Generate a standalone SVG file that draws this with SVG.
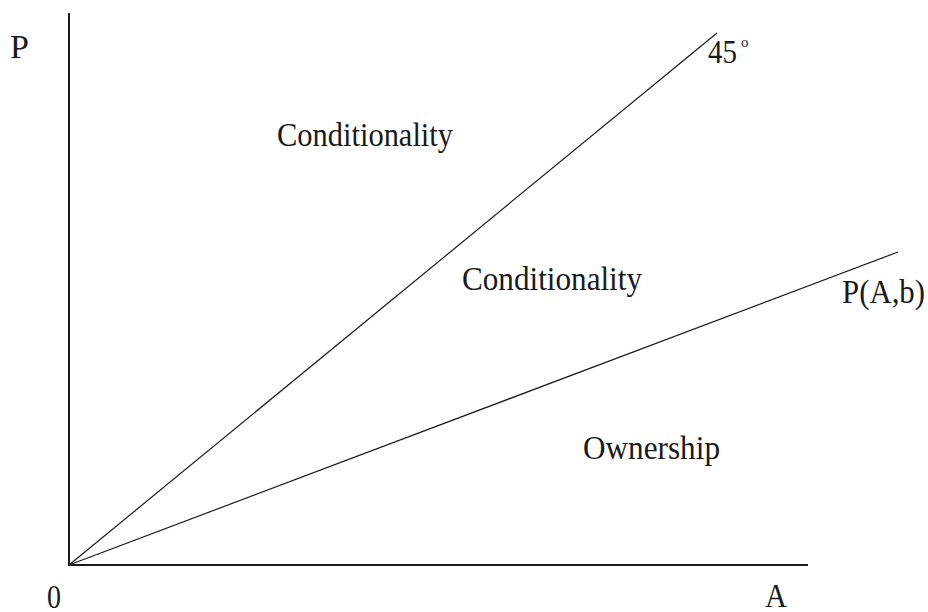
<svg xmlns="http://www.w3.org/2000/svg" width="928" height="612" viewBox="0 0 928 612">
  <style>
    .axis { stroke: #1a1a1a; stroke-width: 2; fill: none; }
    .ray { stroke: #1a1a1a; stroke-width: 1.2; fill: none; }
    .lbl { font-family: "Liberation Serif", "Times New Roman", serif; font-size: 34px; fill: #1a1a1a; }
    .sup { font-family: "Liberation Serif", "Times New Roman", serif; font-size: 15px; fill: #1a1a1a; }
  </style>
  <rect width="928" height="612" fill="#ffffff"/>

  <!-- axes and rays from the origin -->
  <g id="connectors">
    <polyline class="axis" points="69,13 69,565 808,565"/>
    <line class="ray" x1="69" y1="565" x2="717" y2="33"/>
    <line class="ray" x1="69" y1="565" x2="898" y2="252"/>
  </g>

  <!-- axis labels -->
  <g id="axis-p"><text class="lbl" x="10" y="58">P</text></g>
  <g id="axis-a"><text class="lbl" x="765" y="607" textLength="22" lengthAdjust="spacingAndGlyphs">A</text></g>
  <g id="origin"><text class="lbl" x="47" y="608" textLength="14" lengthAdjust="spacingAndGlyphs">0</text></g>

  <!-- ray labels -->
  <g id="ray-45">
    <text class="lbl" x="708" y="63" textLength="29" lengthAdjust="spacingAndGlyphs">45</text>
    <text class="sup" x="741" y="47">o</text>
  </g>
  <g id="ray-pab"><text class="lbl" x="842" y="303" textLength="83" lengthAdjust="spacingAndGlyphs">P(A,b)</text></g>

  <!-- region labels -->
  <g id="region-upper"><text class="lbl" x="277" y="146" textLength="176" lengthAdjust="spacingAndGlyphs">Conditionality</text></g>
  <g id="region-middle"><text class="lbl" x="462" y="290" textLength="180" lengthAdjust="spacingAndGlyphs">Conditionality</text></g>
  <g id="region-lower"><text class="lbl" x="583" y="459" textLength="137" lengthAdjust="spacingAndGlyphs">Ownership</text></g>
</svg>
